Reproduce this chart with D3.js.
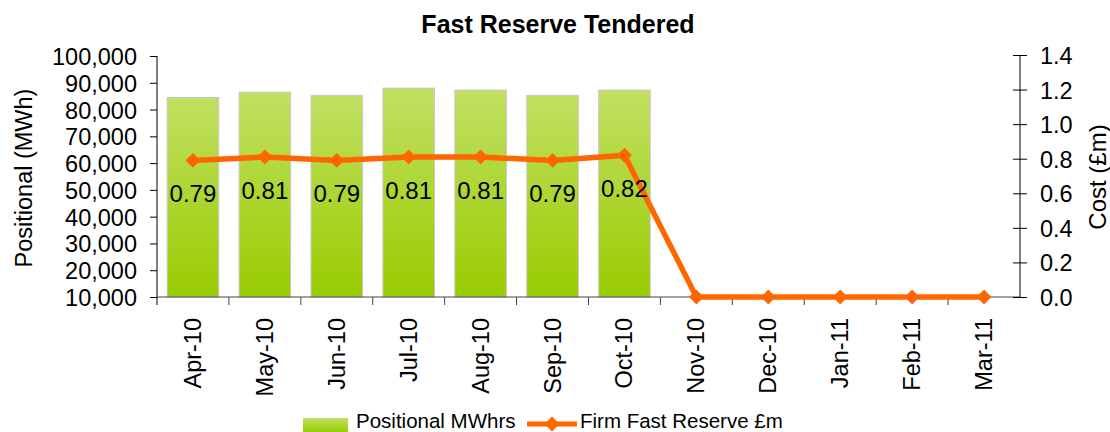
<!DOCTYPE html>
<html>
<head>
<meta charset="utf-8">
<script src="https://cdn.jsdelivr.net/npm/d3@7"></script>
<style>
  body { margin: 0; background: #fff; }
  text { font-family: "Liberation Sans", Arial, sans-serif; fill: #000; }
</style>
</head>
<body>
<script>
// data
const months = ['Apr-10', 'May-10', 'Jun-10', 'Jul-10', 'Aug-10', 'Sep-10',
  'Oct-10', 'Nov-10', 'Dec-10', 'Jan-11', 'Feb-11', 'Mar-11'];
const positional = [84500, 86500, 85300, 88000, 87300, 85300, 87300, null, null, null, null, null];
const cost = [0.79, 0.81, 0.79, 0.81, 0.81, 0.79, 0.82, 0, 0, 0, 0, 0];
const costLabels = ['0.79', '0.81', '0.79', '0.81', '0.81', '0.79', '0.82'];
const leftTicks = [10000, 20000, 30000, 40000, 50000, 60000, 70000, 80000, 90000, 100000];
const rightTicks = [0, 0.2, 0.4, 0.6, 0.8, 1.0, 1.2, 1.4];

const W = 1110, H = 432;
const plot = { left: 157, right: 1020, top: 56, bottom: 297 };

const svg = d3.select('body').append('svg')
  .attr('width', W).attr('height', H);

const defs = svg.append('defs');
const grad = defs.append('linearGradient')
  .attr('id', 'barGrad').attr('x1', 0).attr('x2', 0).attr('y1', 0).attr('y2', 1);
grad.append('stop').attr('offset', '0%').attr('stop-color', '#c1e063');
grad.append('stop').attr('offset', '100%').attr('stop-color', '#99cc00');

// scales
const x = d3.scaleBand()
  .domain(months)
  .range([plot.left, plot.right])
  .paddingInner(0.283)
  .paddingOuter(0.1415);

const y = d3.scaleLinear().domain([10000, 100000]).range([plot.bottom, plot.top]);
const y2 = d3.scaleLinear().domain([0, 1.4]).range([plot.bottom, plot.top - 1]);

// title
svg.append('text')
  .attr('x', 558).attr('y', 33)
  .attr('text-anchor', 'middle')
  .style('font-size', '25px').style('font-weight', 'bold')
  .text('Fast Reserve Tendered');

// bars
svg.append('g').selectAll('rect')
  .data(months.map((m, i) => ({ m, v: positional[i] })).filter(d => d.v != null))
  .join('rect')
  .attr('x', d => x(d.m))
  .attr('y', d => y(d.v))
  .attr('width', x.bandwidth())
  .attr('height', d => y(10000) - y(d.v))
  .attr('fill', 'url(#barGrad)')
  .attr('stroke', '#c8c8c8')
  .attr('stroke-width', 1);

// left axis
const leftAxis = svg.append('g')
  .attr('transform', `translate(${plot.left},0)`)
  .call(d3.axisLeft(y).tickValues(leftTicks).tickSize(7).tickPadding(13)
    .tickFormat(d3.format(',')));
leftAxis.select('.domain').attr('stroke', '#000').attr('d', `M0,${plot.top}V${plot.bottom + 8}`);
leftAxis.selectAll('.tick line').attr('stroke', '#000');
leftAxis.selectAll('.tick text')
  .style('font-size', '23.5px').attr('dy', '0.36em');

// x axis
const xAxisG = svg.append('g').attr('transform', `translate(0,${plot.bottom})`);
xAxisG.append('line')
  .attr('x1', plot.left).attr('x2', plot.right)
  .attr('stroke', '#444').attr('stroke-width', 1);
xAxisG.selectAll('line.sep')
  .data(months.slice(1))
  .join('line')
  .attr('class', 'sep')
  .attr('x1', d => x(d) - x.step() * x.paddingInner() / 2)
  .attr('x2', d => x(d) - x.step() * x.paddingInner() / 2)
  .attr('y1', 0).attr('y2', 8)
  .attr('stroke', '#444');
xAxisG.selectAll('text')
  .data(months)
  .join('text')
  .attr('transform', d => `translate(${x(d) + x.bandwidth() / 2 + 8},21) rotate(-90)`)
  .attr('text-anchor', 'end')
  .style('font-size', '23.5px')
  .text(d => d);

// right axis
const rightAxis = svg.append('g')
  .attr('transform', `translate(${plot.right},0)`)
  .call(d3.axisRight(y2).tickValues(rightTicks).tickSize(7).tickPadding(13)
    .tickFormat(d3.format('.1f')));
rightAxis.select('.domain').attr('stroke', '#000').attr('d', `M0,${y2(1.4)}V${plot.bottom}`);
rightAxis.selectAll('.tick line').attr('x1', -7).attr('stroke', '#000');
rightAxis.selectAll('.tick text')
  .style('font-size', '23.5px').attr('dy', '0.36em');

// axis titles
svg.append('text')
  .attr('transform', 'translate(32,178) rotate(-90)')
  .attr('text-anchor', 'middle')
  .style('font-size', '23.5px')
  .text('Positional (MWh)');
svg.append('text')
  .attr('transform', 'translate(1106,177) rotate(-90)')
  .attr('text-anchor', 'middle')
  .style('font-size', '24px')
  .text('Cost (£m)');

// line
const cx = m => x(m) + x.bandwidth() / 2;
const line = d3.line().x((d, i) => cx(months[i])).y(d => y2(d));
svg.append('path')
  .datum(cost)
  .attr('d', line)
  .attr('fill', 'none')
  .attr('stroke', '#ff6600')
  .attr('stroke-width', 5.5)
  .attr('stroke-linejoin', 'round');

const diamond = d3.symbol().type(d3.symbolDiamond2).size(140);
svg.append('g').selectAll('path')
  .data(cost)
  .join('path')
  .attr('d', diamond)
  .attr('transform', (d, i) => `translate(${cx(months[i])},${y2(d)})`)
  .attr('fill', '#ff6600');

// data labels
svg.append('g').selectAll('text')
  .data(costLabels)
  .join('text')
  .attr('x', (d, i) => cx(months[i]))
  .attr('y', (d, i) => y2(cost[i]) + 42)
  .attr('text-anchor', 'middle')
  .style('font-size', '24px')
  .text(d => d);

// legend
const legend = svg.append('g');
legend.append('rect')
  .attr('x', 303).attr('y', 418).attr('width', 45).attr('height', 14)
  .attr('fill', 'url(#barGrad)');
legend.append('text')
  .attr('x', 356).attr('y', 428)
  .style('font-size', '20.5px')
  .text('Positional MWhrs');
legend.append('line')
  .attr('x1', 527).attr('x2', 577).attr('y1', 424).attr('y2', 424)
  .attr('stroke', '#ff6600').attr('stroke-width', 5);
legend.append('path')
  .attr('d', diamond)
  .attr('transform', 'translate(552,424)')
  .attr('fill', '#ff6600');
legend.append('text')
  .attr('x', 580).attr('y', 428)
  .style('font-size', '20.5px')
  .text('Firm Fast Reserve £m');
</script>
</body>
</html>
